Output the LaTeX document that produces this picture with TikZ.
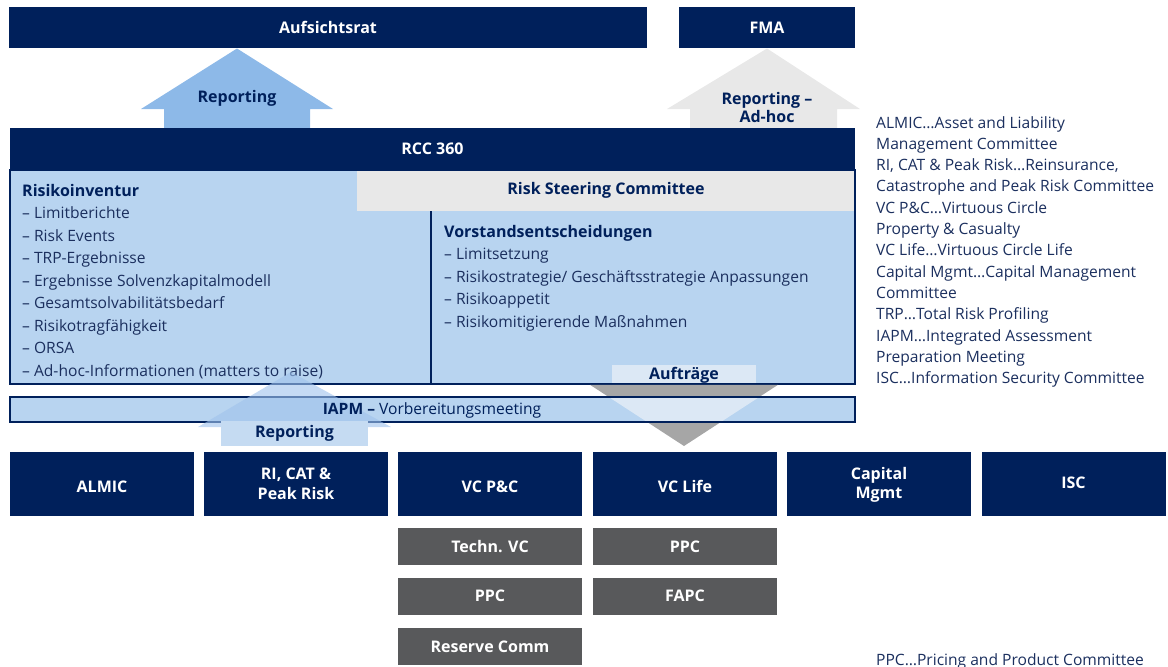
\documentclass[tikz,border=0pt]{standalone}
\usepackage{fontspec}
\setmainfont{Open Sans}
\usetikzlibrary{positioning}

\definecolor{navy}{RGB}{0,32,91}
\definecolor{listnavy}{RGB}{27,47,94}
\definecolor{panelblue}{RGB}{184,212,240}
\definecolor{arrowblue}{RGB}{141,185,232}
\definecolor{paleblue}{RGB}{220,232,245}
\definecolor{shaftblue}{RGB}{197,219,242}
\definecolor{headblue}{RGB}{159,194,236}
\definecolor{lightgrey}{RGB}{232,232,232}
\definecolor{midgrey}{RGB}{166,166,166}
\definecolor{boxgrey}{RGB}{88,89,91}

\tikzset{
  navybox/.style={fill=navy, text=white, font=\fontsize{16}{19.5}\selectfont\bfseries,
    inner sep=0pt, outer sep=0pt, align=center},
  greybox/.style={fill=boxgrey, text=white, font=\fontsize{16}{19}\selectfont\bfseries,
    inner sep=0pt, outer sep=0pt, minimum width=184pt, minimum height=37pt},
  headtext/.style={text=navy, font=\fontsize{16}{18}\selectfont\bfseries, inner sep=0pt, align=center},
  listtext/.style={text=listnavy, font=\fontsize{15.6}{18}\selectfont, inner sep=0pt, anchor=base west},
}

\begin{document}
\begin{tikzpicture}[x=1pt,y=-1pt]
\useasboundingbox (0,0) rectangle (1168,667);

% top row
\node[navybox, minimum width=638pt, minimum height=41pt] (aufsicht) at (328,27.5) {Aufsichtsrat};
\node[navybox, minimum width=176pt, minimum height=41pt] (fma) at (767,27.5) {FMA};

% reporting arrows up
\fill[arrowblue] (164,128) -- (164,109) -- (141,109) -- (237,48.5) -- (333,109) -- (310,109) -- (310,128) -- cycle;
\node[headtext] (rep) at (237,98) {Reporting};
\fill[lightgrey] (690,128) -- (690,109) -- (667,109) -- (767,48.5) -- (860,109) -- (837,109) -- (837,128) -- cycle;
\node[headtext] (adhoc) at (767,107) {Reporting --\\Ad-hoc};

% RCC 360
\node[navybox, minimum width=845pt, minimum height=42pt] (rcc) at (432.5,149) {RCC 360};
\fill[panelblue] (10,170) rectangle (855,384);
\node[fill=lightgrey, inner sep=0pt, minimum width=498pt, minimum height=41pt] (rsc) at (606,190.5) {};
\node[headtext] at (rsc) {Risk Steering Committee};
\draw[navy, line width=1.2pt] (431,211) -- (431,384);

\node[listtext, text=navy, font=\fontsize{16}{18}\selectfont\bfseries] (inventur) at (22,196) {Risikoinventur};
\foreach \t [count=\i] in {Limitberichte, Risk Events, TRP-Ergebnisse, Ergebnisse Solvenzkapitalmodell,
    Gesamtsolvabilitätsbedarf, Risikotragfähigkeit, ORSA, Ad-hoc-Informationen (matters to raise)}
  \node[listtext] (inv\i) at (22,196+22.5*\i) {-- \t};
\node[listtext, text=navy, font=\fontsize{16}{18}\selectfont\bfseries] (vorstand) at (444,237) {Vorstandsentscheidungen};
\foreach \t [count=\i] in {Limitsetzung, Risikostrategie/ Geschäftsstrategie Anpassungen,
    Risikoappetit, Risikomitigierende Maßnahmen}
  \node[listtext] (vor\i) at (444,237+22.5*\i) {-- \t};

% Auftraege arrow down
\fill[paleblue] (612,365) rectangle (756,384);
\node[headtext] (auftr) at (684,375.5) {Aufträge};
\draw[navy, line width=1.6pt] (10,170) rectangle (855,384);
\fill[midgrey] (590,384.8) -- (778,384.8) -- (684,446) -- cycle;

% IAPM bar
\fill[panelblue] (10,397) rectangle (855,422);
\begin{scope}
  \clip (10,397) rectangle (855,422);
  \fill[paleblue] (590,384.8) -- (778,384.8) -- (684,446) -- cycle;
\end{scope}
\draw[navy, line width=1.6pt] (10,397) rectangle (855,422);
\fill[headblue, opacity=0.6] (198,427) -- (291,372) -- (391,427) -- cycle;
\node[text=navy, font=\fontsize{15.6}{18}\selectfont, inner sep=0pt] (iapm) at (432,410)
  {\textbf{IAPM --} Vorbereitungsmeeting};
\node[fill=shaftblue, inner sep=0pt, minimum width=147pt, minimum height=25pt] (shaft) at (294.5,433.5) {};
\node[headtext] at (shaft) {Reporting};

% committees
\foreach \cx/\cy/\nm/\txt in {102/487/almic/ALMIC, 296/484/ricat/{RI, CAT \&\\Peak Risk}, 490/487/vcpc/VC P\&C,
    685/487/vclife/VC Life, 879/484/capital/{Capital\\Mgmt}, 1073.5/484/isc/ISC}
  \node[navybox, minimum width=184pt, minimum height=64pt] (\nm) at (\cx,484) {};
\foreach \cx/\cy/\nm/\txt in {102/487/almic/ALMIC, 296/484/ricat/{RI, CAT \&\\Peak Risk}, 490/487/vcpc/VC P\&C,
    685/486/vclife/VC Life, 879/485/capital/{Capital\\Mgmt}, 1073.5/483/isc/ISC}
  \node[navybox, fill=none] (\nm text) at (\cx,\cy) {\txt};

% sub committees
\node[greybox] (techn) at (490,546.5) {Techn. VC};
\node[greybox] (ppca) at (490,596) {PPC};
\node[greybox] (reserve) at (490,646.5) {Reserve Comm};
\node[greybox] (ppcb) at (685,546.5) {PPC};
\node[greybox] (fapc) at (685,596) {FAPC};

% legend
\foreach \t [count=\i from 0] in {ALMIC\dots Asset and Liability, Management Committee,
    {RI, CAT \& Peak Risk\dots Reinsurance,}, Catastrophe and Peak Risk Committee,
    VC P\&C\dots Virtuous Circle, Property \& Casualty, VC Life\dots Virtuous Circle Life,
    Capital Mgmt\dots Capital Management, Committee, TRP\dots Total Risk Profiling,
    IAPM\dots Integrated Assessment, Preparation Meeting, ISC\dots Information Security Committee}
  \node[listtext] (leg\i) at (876,128+21.3*\i) {\t};
\node[listtext] (legppc) at (876,665) {PPC\dots Pricing and Product Committee};
\end{tikzpicture}
\end{document}
